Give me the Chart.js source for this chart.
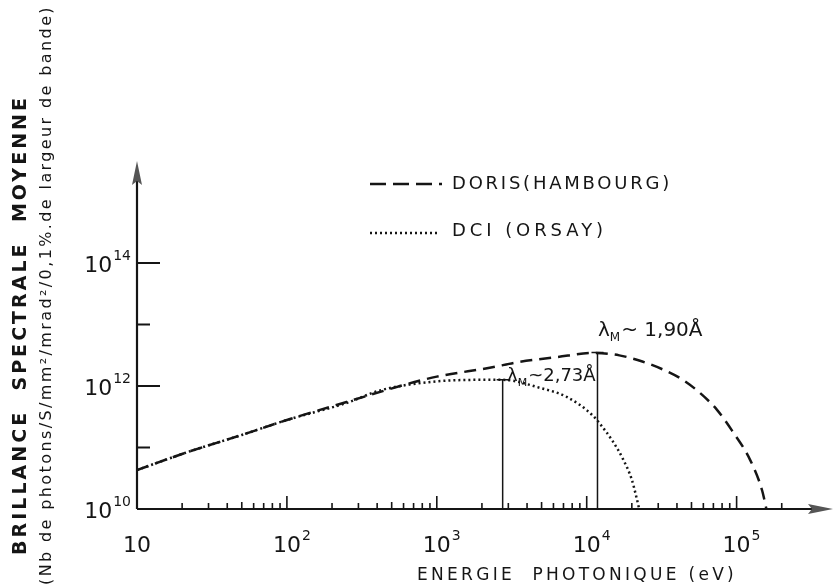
<!DOCTYPE html>
<html>
<head>
<meta charset="utf-8">
<script src="https://cdn.jsdelivr.net/npm/chart.js@4.4.1/dist/chart.umd.min.js"></script>
<style>
  html, body { margin: 0; background: #fff; }
  #wrap { width: 834px; height: 588px; }
</style>
</head>
<body>
<div id="wrap"><canvas id="chart"></canvas></div>
<script>
// energies in eV, brilliance in photons/s/mm2/mrad2/0.1% bandwidth
const energyDoris = [10, 22, 50, 100, 250, 700, 1000, 2300, 3500, 6300, 11000, 16500, 23500, 34000, 44000, 56000, 74000, 93000, 123000, 148000, 158000];
const brillanceDoris = [4.3e10, 8.5e10, 1.6e11, 2.8e11, 5.5e11, 1.15e12, 1.42e12, 2.0e12, 2.45e12, 2.95e12, 3.45e12, 3.15e12, 2.5e12, 1.75e12, 1.25e12, 8.0e11, 4.1e11, 1.9e11, 6.3e10, 2.0e10, 1.0e10];

const energyDci = [10, 22, 50, 100, 250, 420, 930, 1950, 2750, 4900, 7400, 11000, 12300, 14800, 17400, 20000, 21400, 22400];
const brillanceDci = [4.3e10, 8.5e10, 1.6e11, 2.8e11, 5.3e11, 8.5e11, 1.17e12, 1.26e12, 1.26e12, 9.3e11, 6.6e11, 3.3e11, 2.4e11, 1.3e11, 6.6e10, 3.0e10, 1.6e10, 1.0e10];

// lambda_M markers: energy of the vertical line, height, label
const lambdaEnergies = [2750, 11800];
const lambdaTops = [1.26e12, 3.5e12];
const lambdaLabels = ["2,73Å", "1,90Å"];

const seriesNames = ["DORIS(HAMBOURG)", "DCI (ORSAY)"];

const xTickValues = [10, 100, 1000, 10000, 100000];
const xTickExps = ["", "2", "3", "4", "5"];
const yTickValues = [1e10, 1e12, 1e14];
const yTickExps = ["10", "12", "14"];
const yMinorTicks = [1e11, 1e13];

const xTitle = "ENERGIE  PHOTONIQUE (eV)";
const yTitle1 = "BRILLANCE  SPECTRALE  MOYENNE";
const yTitle2 = "(Nb de photons/S/mm²/mrad²/0,1%.de largeur de bande)";

const INK = "#151515";
const FONT = "'DejaVu Sans', sans-serif";

function toPoints(xs, ys) {
  return xs.map((v, i) => ({ x: v, y: ys[i] }));
}

// draw text stretched with letter spacing to a given width
function spacedText(ctx, text, x, y, width, font) {
  ctx.font = font;
  ctx.letterSpacing = "0px";
  const w = ctx.measureText(text).width;
  const sp = (width - w) / text.length;
  ctx.letterSpacing = sp + "px";
  ctx.textAlign = "left";
  ctx.fillText(text, x, y);
  ctx.letterSpacing = "0px";
}

function powerLabel(ctx, exp, x, y, align) {
  ctx.textBaseline = "alphabetic";
  ctx.font = "22px " + FONT;
  ctx.letterSpacing = "0px";
  const wb = ctx.measureText("10").width;
  ctx.font = "14px " + FONT;
  const we = exp ? ctx.measureText(exp).width : 0;
  let left = align === "right" ? x - wb - we - 1 : x - wb / 2;
  ctx.textAlign = "left";
  ctx.font = "22px " + FONT;
  ctx.fillText("10", left, y);
  if (exp) {
    ctx.font = "14px " + FONT;
    ctx.fillText(exp, left + wb + 1, y - 12);
  }
}

const axesPlugin = {
  id: "oldAxes",
  afterDatasetsDraw(chart) {
    const { ctx, chartArea } = chart;
    const xs = chart.scales.x, ys = chart.scales.y;
    const x0 = xs.getPixelForValue(10);
    const y0 = ys.getPixelForValue(1e10);
    ctx.save();
    ctx.strokeStyle = INK;
    ctx.fillStyle = INK;
    ctx.setLineDash([]);

    // axis lines with arrows
    ctx.lineWidth = 2.2;
    ctx.beginPath();
    ctx.moveTo(x0, y0);
    ctx.lineTo(chartArea.right, y0);
    ctx.moveTo(x0, y0);
    ctx.lineTo(x0, chartArea.top);
    ctx.stroke();
    ctx.fillStyle = "#555";
    ctx.beginPath();
    ctx.moveTo(833, y0);
    ctx.lineTo(chartArea.right - 12, y0 - 5);
    ctx.lineTo(chartArea.right - 8, y0);
    ctx.lineTo(chartArea.right - 12, y0 + 5);
    ctx.closePath();
    ctx.fill();
    ctx.beginPath();
    ctx.moveTo(x0, 161);
    ctx.lineTo(x0 - 5, chartArea.top + 10);
    ctx.lineTo(x0, chartArea.top + 6);
    ctx.lineTo(x0 + 5, chartArea.top + 10);
    ctx.closePath();
    ctx.fill();
    ctx.fillStyle = INK;

    // x ticks, pointing up into the plot
    ctx.lineWidth = 1.6;
    ctx.beginPath();
    for (let d = 10; d <= 100000; d *= 10) {
      for (let k = 1; k <= 9; k++) {
        const v = d * k;
        if (v <= 10 || v > 2e5) continue;
        const px = xs.getPixelForValue(v);
        const len = k === 1 ? 13 : (k === 5 ? 7 : 6);
        ctx.moveTo(px, y0);
        ctx.lineTo(px, y0 - len);
      }
    }
    ctx.stroke();

    // y ticks, pointing right
    ctx.lineWidth = 2;
    ctx.beginPath();
    yTickValues.concat(yMinorTicks).forEach(v => {
      if (v <= 1e10) return;
      const py = ys.getPixelForValue(v);
      const len = yMinorTicks.includes(v) ? 13 : 23;
      ctx.moveTo(x0, py);
      ctx.lineTo(x0 + len, py);
    });
    ctx.stroke();

    // tick labels
    xTickValues.forEach((v, i) => {
      powerLabel(ctx, xTickExps[i], xs.getPixelForValue(v), 552, "center");
    });
    yTickValues.forEach((v, i) => {
      powerLabel(ctx, yTickExps[i], 131, ys.getPixelForValue(v) + 9, "right");
    });

    // axis titles
    ctx.textBaseline = "middle";
    spacedText(ctx, xTitle, 417, 576, 320, "17px " + FONT);
    ctx.save();
    ctx.translate(21, 325);
    ctx.rotate(-Math.PI / 2);
    spacedText(ctx, yTitle1, -230, 0, 460, "bold 19px " + FONT);
    ctx.restore();
    ctx.save();
    ctx.translate(47, 295);
    ctx.rotate(-Math.PI / 2);
    spacedText(ctx, yTitle2, -290, 0, 580, "16px " + FONT);
    ctx.restore();

    // legend
    ctx.lineWidth = 2.5;
    ctx.setLineDash([16, 7]);
    ctx.beginPath();
    ctx.moveTo(370, 184);
    ctx.lineTo(442, 184);
    ctx.stroke();
    ctx.setLineDash([2, 3]);
    ctx.beginPath();
    ctx.moveTo(370, 233);
    ctx.lineTo(440, 233);
    ctx.stroke();
    ctx.setLineDash([]);
    spacedText(ctx, seriesNames[0], 452, 184, 220, "18px " + FONT);
    spacedText(ctx, seriesNames[1], 452, 231, 155, "18px " + FONT);

    // lambda_M labels
    const labelPos = [[507, 381, 18], [598, 336, 20]];
    lambdaLabels.forEach((t, i) => {
      const [lx, ly, fs] = labelPos[i];
      ctx.textBaseline = "alphabetic";
      ctx.textAlign = "left";
      ctx.font = fs + "px " + FONT;
      ctx.fillText("λ", lx, ly);
      let w = ctx.measureText("λ").width;
      ctx.font = Math.round(fs * 0.6) + "px " + FONT;
      ctx.fillText("M", lx + w, ly + 5);
      w += ctx.measureText("M").width + 1;
      ctx.font = fs + "px " + FONT;
      ctx.fillText("~" + (i === 1 ? " " : "") + t, lx + w, ly);
    });

    // small caps on top of the marker lines
    ctx.lineWidth = 1.5;
    ctx.beginPath();
    lambdaEnergies.forEach((e, i) => {
      const px = xs.getPixelForValue(e), py = ys.getPixelForValue(lambdaTops[i]);
      ctx.moveTo(px - 6, py);
      ctx.lineTo(px + 6, py);
    });
    ctx.stroke();
    ctx.restore();
  }
};

const markerSets = lambdaEnergies.map((e, i) => ({
  label: "lambda" + i,
  data: [{ x: e, y: 1e10 }, { x: e, y: lambdaTops[i] }],
  borderColor: INK,
  borderWidth: 1.5,
  pointRadius: 0
}));

new Chart(document.getElementById("chart"), {
  type: "line",
  data: {
    datasets: [
      {
        label: seriesNames[0],
        data: toPoints(energyDoris, brillanceDoris),
        borderColor: INK,
        borderWidth: 2.5,
        borderDash: [12, 7],
        pointRadius: 0,
        cubicInterpolationMode: "monotone"
      },
      {
        label: seriesNames[1],
        data: toPoints(energyDci, brillanceDci),
        borderColor: INK,
        borderWidth: 2.5,
        borderDash: [2, 3],
        pointRadius: 0,
        cubicInterpolationMode: "monotone"
      },
      ...markerSets
    ]
  },
  options: {
    responsive: true,
    maintainAspectRatio: false,
    animation: false,
    layout: { padding: { left: 137, right: 14, top: 175, bottom: 79 } },
    plugins: { legend: { display: false }, tooltip: { enabled: false } },
    scales: {
      x: { type: "logarithmic", min: 10, max: 3.6e5, display: false },
      y: { type: "logarithmic", min: 1e10, max: 2.7e15, display: false }
    }
  },
  plugins: [axesPlugin]
});
</script>
</body>
</html>
